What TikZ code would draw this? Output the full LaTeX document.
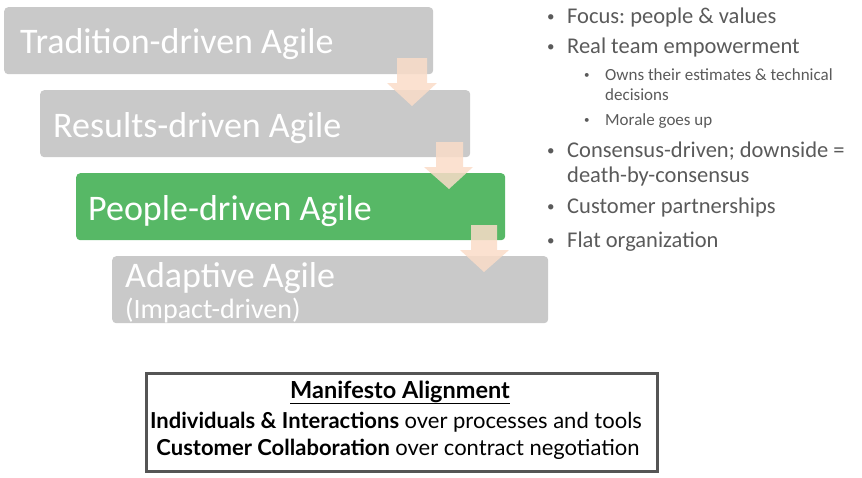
\documentclass[tikz,border=0pt]{standalone}
\usepackage{fontspec}
\setmainfont{Carlito}
\newfontfamily\boxfont{Lato}
\frenchspacing
\definecolor{boxgray}{HTML}{C9C9C9}
\definecolor{boxgreen}{HTML}{57B866}
\definecolor{arrowpeach}{HTML}{FADCC8}
\definecolor{bulletgray}{HTML}{5A5A5A}
\definecolor{frame}{HTML}{555555}
\begin{document}
\begin{tikzpicture}[x=1pt,y=-1pt,
  stagebox/.style={rounded corners=4pt, inner sep=0pt, anchor=north west, minimum height=67pt},
  stagetext/.style={text=white, inner sep=0pt, anchor=base west, font=\fontsize{36}{40}\selectfont},
  subtext/.style={text=white, inner sep=0pt, anchor=base west, font=\fontsize{28}{32}\selectfont},
  flowarrow/.style={fill=arrowpeach, fill opacity=0.85},
  bul/.style={text=bulletgray, inner sep=0pt, anchor=base west, font=\fontsize{22.5}{26}\selectfont},
  buldot/.style={text=bulletgray, inner sep=0pt, anchor=base west, font=\fontsize{15}{18}\selectfont},
  subbul/.style={text=bulletgray, inner sep=0pt, anchor=base west, font=\fontsize{17}{20}\selectfont},
  subdot/.style={text=bulletgray, inner sep=0pt, anchor=base west, font=\fontsize{11}{13}\selectfont},
  mline/.style={inner sep=0pt, anchor=base, font=\boxfont\fontsize{22}{26}\selectfont}]
\useasboundingbox (0,0) rectangle (862,477);
% stage boxes
\node[stagebox, fill=boxgray, minimum width=429pt] (s1) at (4,7) {};
\node[stagebox, fill=boxgray, minimum width=430pt] (s2) at (40,90) {};
\node[stagebox, fill=boxgreen, minimum width=429pt] (s3) at (76,173) {};
\node[stagebox, fill=boxgray, minimum width=436pt] (s4) at (112,256) {};
\node[stagetext] (l1) at (20,53) {Tradition-driven Agile};
\node[stagetext] (l2) at (53,137) {Results-driven Agile};
\node[stagetext] (l3) at (88,220) {People-driven Agile};
\node[stagetext] (l4) at (125,287) {Adaptive Agile};
\node[subtext] (l4b) at (125,318) {(Impact-driven)};
% block arrows
\fill[flowarrow] (397,58) -- (427,58) -- (427,83) -- (437,83) -- (412,106) -- (387,83) -- (397,83) -- cycle;
\fill[flowarrow] (436,142) -- (463,142) -- (463,167) -- (473,167) -- (449,189) -- (424,167) -- (436,167) -- cycle;
\fill[flowarrow] (471,225) -- (497,225) -- (497,250) -- (509,250) -- (484,272) -- (460,250) -- (471,250) -- cycle;
% bullets
\node[buldot] (b1d) at (547,21) {•};
\node[bul] (b1) at (567,23) {Focus: people \& values};
\node[buldot] (b2d) at (547,51) {•};
\node[bul] (b2) at (567,53) {Real team empowerment};
\node[subdot] (b3d) at (584,78) {•};
\node[subbul] (b3) at (605,80) {Owns their estimates \& technical};
\node[subbul] (b3b) at (605,100) {decisions};
\node[subdot] (b4d) at (584,123) {•};
\node[subbul] (b4) at (605,125) {Morale goes up};
\node[buldot] (b5d) at (547,155) {•};
\node[bul] (b5) at (567,157) {Consensus-driven; downside =};
\node[bul] (b5b) at (567,182) {death-by-consensus};
\node[buldot] (b6d) at (547,211) {•};
\node[bul] (b6) at (567,213) {Customer partnerships};
\node[buldot] (b7d) at (547,245) {•};
\node[bul] (b7) at (567,247) {Flat organization};
% manifesto box
\node[draw=frame, line width=2.5pt, inner sep=0pt, anchor=north west, minimum width=511pt, minimum height=98pt] (mb) at (145,372) {};
\node[mline, font=\boxfont\fontsize{23.5}{26}\selectfont] (m1) at (400,398) {\underline{\textbf{Manifesto Alignment}}};
\node[mline] (m2) at (396,428) {\textbf{Individuals \& Interactions} over processes and tools};
\node[mline] (m3) at (398,455) {\textbf{Customer Collaboration} over contract negotiation};
\end{tikzpicture}
\end{document}
